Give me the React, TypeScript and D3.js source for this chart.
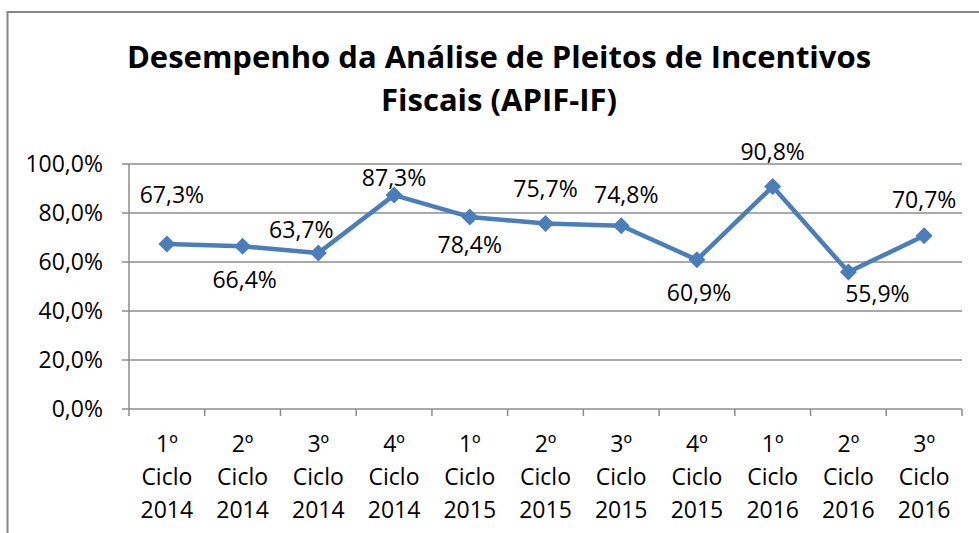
import React from "react";
import * as d3 from "d3";

const categories = [
  ["1º", "Ciclo", "2014"],
  ["2º", "Ciclo", "2014"],
  ["3º", "Ciclo", "2014"],
  ["4º", "Ciclo", "2014"],
  ["1º", "Ciclo", "2015"],
  ["2º", "Ciclo", "2015"],
  ["3º", "Ciclo", "2015"],
  ["4º", "Ciclo", "2015"],
  ["1º", "Ciclo", "2016"],
  ["2º", "Ciclo", "2016"],
  ["3º", "Ciclo", "2016"],
];
const values = [0.673, 0.664, 0.637, 0.873, 0.784, 0.757, 0.748, 0.609, 0.908, 0.559, 0.707];
const yTicks = [0, 0.2, 0.4, 0.6, 0.8, 1.0];
const titleLines = ["Desempenho da Análise de Pleitos de Incentivos", "Fiscais (APIF-IF)"];
// manual label offsets (label centre relative to point), as in the source chart
const labelOffsets: [number, number][] = [
  [5, -49], [2, 34], [-17, -23], [0, -17], [0, 28], [0, -35],
  [5, -31], [2, 33], [0, -35], [29, 22], [0, -36],
];

const W = 979;
const H = 533;
const left = 129;
const right = 962;
const top = 164;
const bottom = 409;
const font = "'Open Sans', sans-serif";
const gridColor = "#8c8c8c";
const lineColor = "#4a7ebb";

const fmt = (v: number) => (v * 100).toFixed(1).replace(".", ",") + "%";

export default function App() {
  const keys = categories.map((_, i) => String(i));
  const x = d3.scaleBand<string>().domain(keys).range([left, right]);
  const y = d3.scaleLinear().domain([0, 1]).range([bottom, top]);
  const cx = (i: number) => (x(String(i)) as number) + x.bandwidth() / 2;
  const line = d3
    .line<number>()
    .x((_, i) => cx(i))
    .y((d) => y(d));
  const r = 8.5;
  const diamond = (px: number, py: number) =>
    `M${px},${py - r}L${px + r},${py}L${px},${py + r}L${px - r},${py}Z`;
  const tickXs = d3.range(categories.length + 1).map((i) =>
    i < categories.length ? (x(String(i)) as number) : right
  );

  return (
    <div style={{ position: "fixed", left: 0, top: 0 }}>
      <svg width={W} height={H} style={{ display: "block", background: "#fff" }}>
        <rect x={7.5} y={12} width={W + 20} height={H + 20} fill="#fff" stroke="#878787" strokeWidth={2} />
        {titleLines.map((t, i) => (
          <text
            key={i}
            x={499}
            y={68 + i * 43}
            textAnchor="middle"
            fontFamily={font}
            fontWeight="bold"
            fontSize={31}
            fill="#000"
          >
            {t}
          </text>
        ))}
        {yTicks.map((t) => (
          <g key={t}>
            <line x1={left - 7} x2={right} y1={y(t)} y2={y(t)} stroke={gridColor} strokeWidth={1.5} />
            <text
              x={103}
              y={y(t) + 8}
              textAnchor="end"
              fontFamily={font}
              fontSize={23}
              fill="#000"
            >
              {fmt(t)}
            </text>
          </g>
        ))}
        <line x1={left} x2={left} y1={top} y2={bottom} stroke={gridColor} strokeWidth={1.5} />
        {tickXs.map((tx, i) => (
          <line key={i} x1={tx} x2={tx} y1={bottom} y2={bottom + 7} stroke={gridColor} strokeWidth={1.5} />
        ))}
        {categories.map((c, i) => (
          <text key={i} textAnchor="middle" fontFamily={font} fontSize={23} fill="#000">
            {c.map((s, j) => (
              <tspan key={j} x={cx(i)} y={452 + j * 33}>
                {s}
              </tspan>
            ))}
          </text>
        ))}
        <path d={line(values) || ""} fill="none" stroke={lineColor} strokeWidth={4.5} strokeLinejoin="round" />
        {values.map((v, i) => (
          <path key={i} d={diamond(cx(i), y(v))} fill={lineColor} />
        ))}
        {values.map((v, i) => (
          <text
            key={i}
            x={cx(i) + labelOffsets[i][0]}
            y={y(v) + labelOffsets[i][1] + 8}
            textAnchor="middle"
            fontFamily={font}
            fontSize={23}
            fill="#000"
          >
            {fmt(v)}
          </text>
        ))}
      </svg>
    </div>
  );
}
